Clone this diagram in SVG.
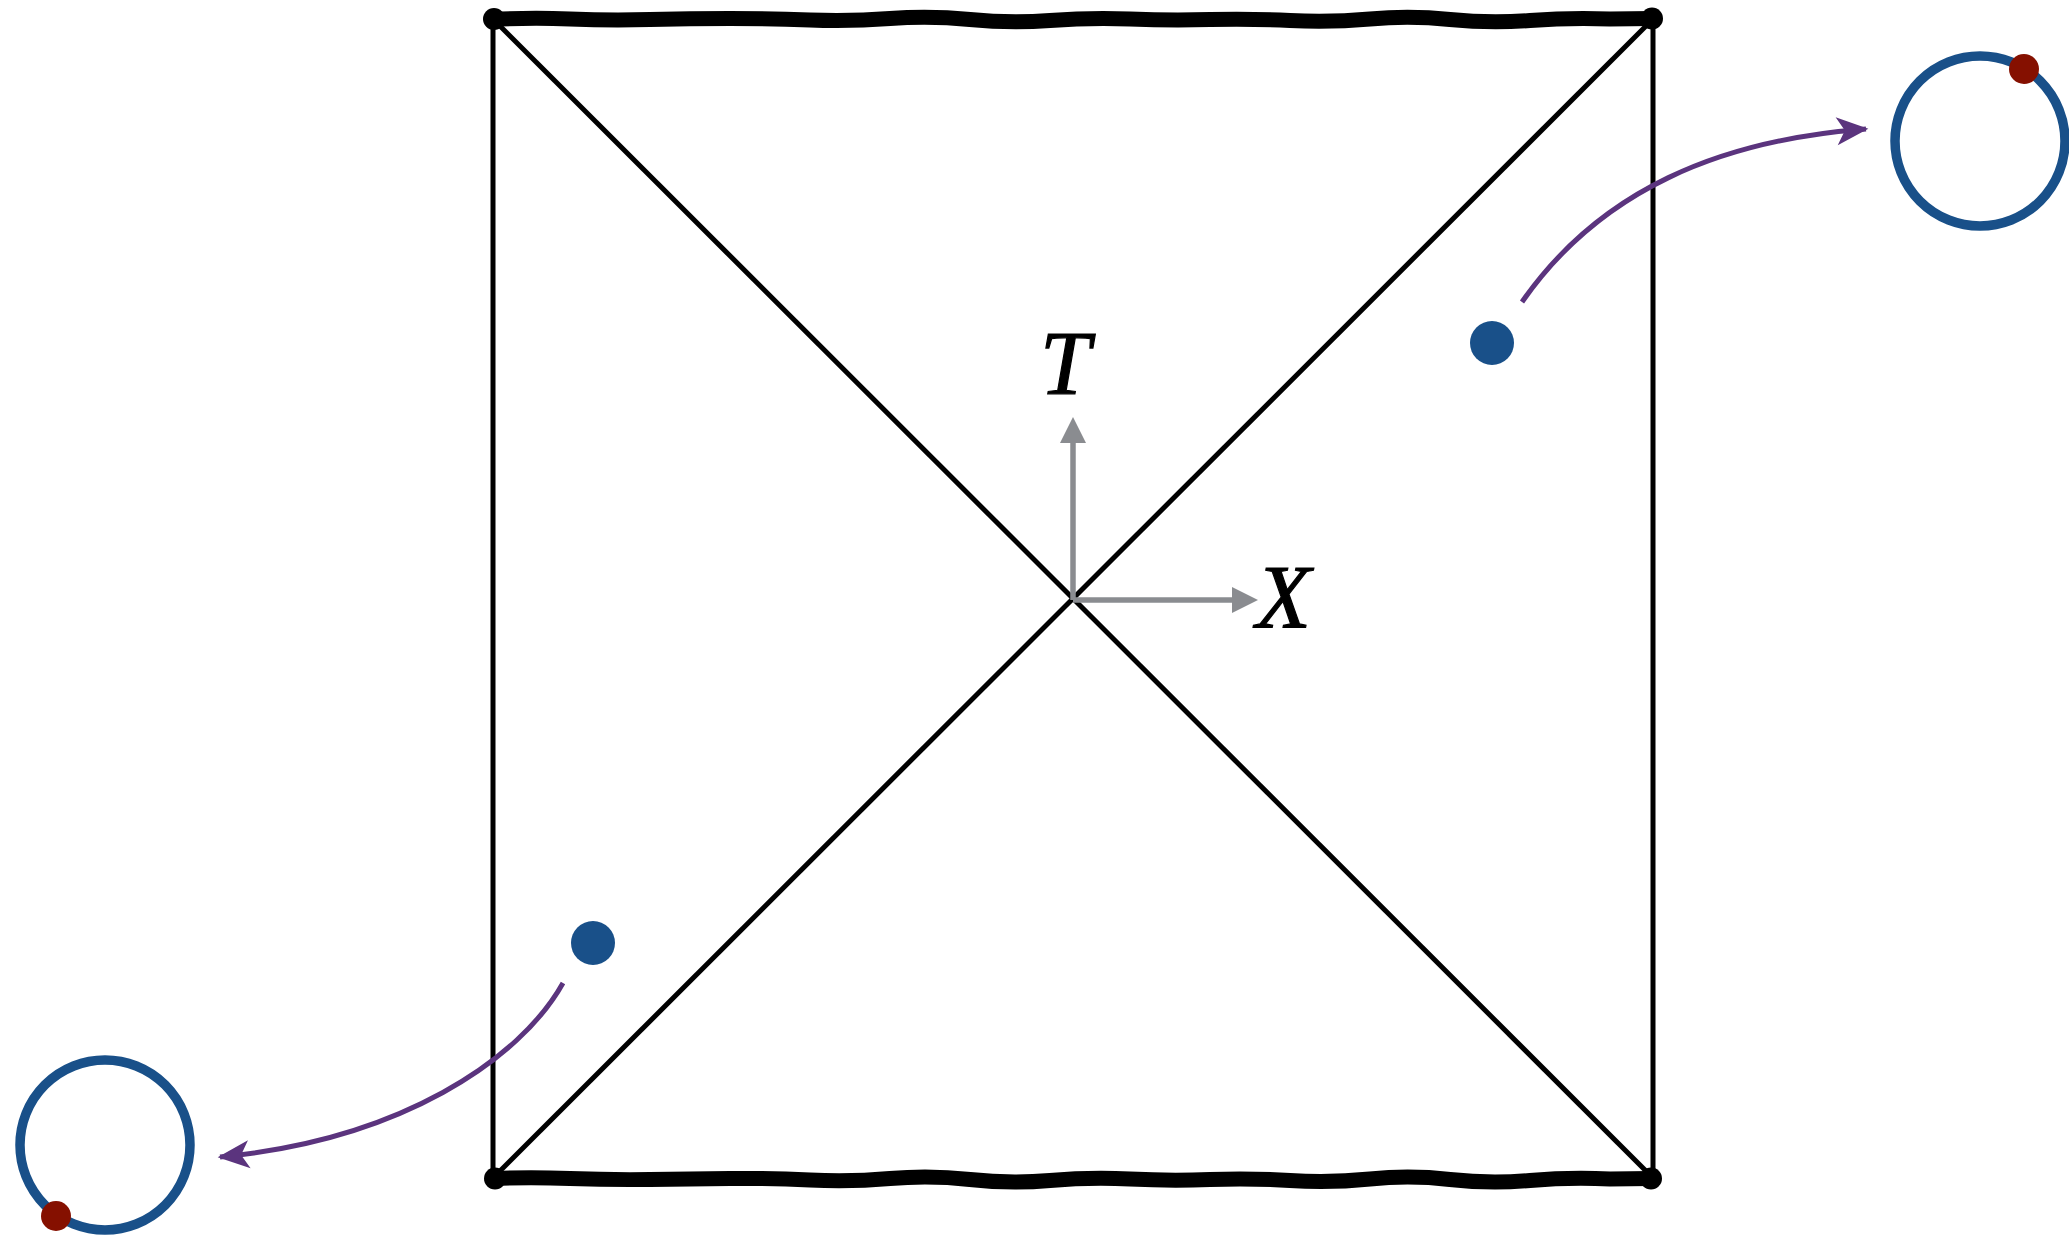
<svg xmlns="http://www.w3.org/2000/svg" width="2069" height="1236" viewBox="0 0 2069 1236">
<style>
.thin{stroke:#000;stroke-width:5;fill:none}
.edge{stroke:#000;stroke-width:15;fill:none;stroke-linecap:round;stroke-linejoin:round}
.axis{stroke:#8a8c90;stroke-width:5.5;fill:none}
.axhead{fill:#8a8c90}
.conn{stroke:#5b347e;stroke-width:5;fill:none}
.ring{stroke:#195089;stroke-width:9.5;fill:none}
.dot{fill:#195089}
.red{fill:#851000}
.lbl{font-family:"Liberation Serif",serif;font-style:italic;font-size:90px;fill:#000;stroke:#000;stroke-width:1.2}
</style>
<defs>
<marker id="stealth" markerUnits="userSpaceOnUse" markerWidth="40" markerHeight="40" viewBox="-30 -15 34 30" refX="0" refY="0" orient="auto">
<path d="M2,0 L-25,-12 L-18,0 L-25,12 Z" fill="#5b347e"/>
</marker>
</defs>
<rect width="2069" height="1236" fill="#fff"/>
<g id="diagram">
<line class="thin" x1="493" y1="19" x2="1653" y2="1178"/>
<line class="thin" x1="1653" y1="19" x2="493" y2="1178"/>
<line class="thin" x1="493" y1="19" x2="493" y2="1178"/>
<line class="thin" x1="1653" y1="19" x2="1653" y2="1178"/>
<path class="edge" d="M493,19.5 Q530,17.5 570,19 T650,19.5 T730,18.5 T810,20 T890,18.5 T970,19.5 T1050,20.5 T1130,19 T1210,19.5 T1290,20.5 T1370,19 T1450,19.5 T1530,20.5 T1610,19 L1653,18.5"/>
<path class="edge" d="M494,1178.5 Q530,1177 570,1178.5 T650,1179.5 T730,1178.5 T810,1180 T890,1178.5 T970,1179.5 T1050,1180.5 T1130,1179 T1210,1179.5 T1290,1180.5 T1370,1179 T1450,1179.5 T1530,1180.5 T1610,1179 L1651,1178.5"/>
<circle cx="494" cy="19" r="11"/>
<circle cx="1652" cy="18.5" r="11"/>
<circle cx="495" cy="1178.5" r="11"/>
<circle cx="1651" cy="1178.5" r="11"/>
</g>
<g id="axes">
<line class="axis" x1="1073" y1="600" x2="1073" y2="440"/>
<polygon class="axhead" points="1073,417 1060,443 1086,443"/>
<line class="axis" x1="1073" y1="600" x2="1234" y2="600"/>
<polygon class="axhead" points="1258,600 1232,587 1232,613"/>
<text class="lbl" x="1040" y="394">T</text>
<text class="lbl" x="1256" y="628">X</text>
</g>
<g id="dot-right"><circle class="dot" cx="1492" cy="343" r="22"/></g>
<g id="dot-left"><circle class="dot" cx="593" cy="943" r="22"/></g>
<g id="ring-right">
<circle class="ring" cx="1980" cy="141" r="85"/>
<circle class="red" cx="2024" cy="69" r="15"/>
</g>
<g id="ring-left">
<circle class="ring" cx="105" cy="1145" r="85"/>
<circle class="red" cx="56" cy="1216" r="15"/>
</g>
<g id="connectors">
<path class="conn" d="M1522,302 C1600,190 1720,140 1866,129" marker-end="url(#stealth)"/>
<path class="conn" d="M563,983 C520,1060 400,1140 220,1157" marker-end="url(#stealth)"/>
</g>
</svg>
